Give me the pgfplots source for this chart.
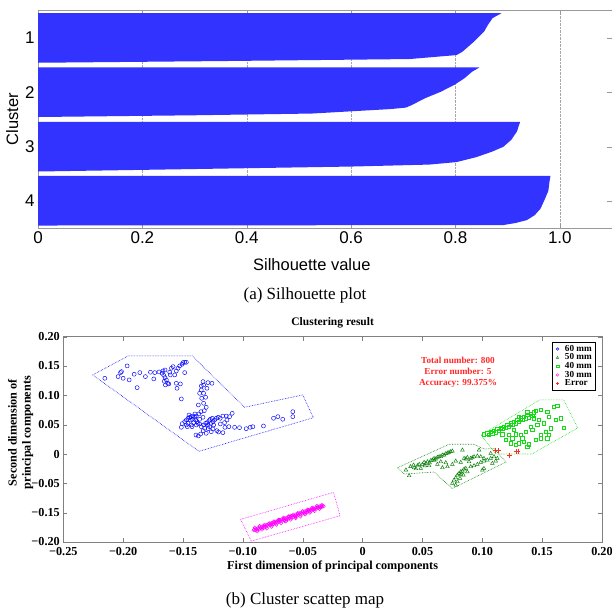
\documentclass[border=0pt]{standalone}
\usepackage{fontspec}
\setmainfont{Liberation Serif}
\newfontfamily\arial{Liberation Sans}
\usepackage{pgfplots}
\pgfplotsset{compat=1.18}
\definecolor{silblue}{RGB}{51,51,255}
\definecolor{dgreen}{RGB}{0,125,0}
\definecolor{lgreen}{RGB}{20,220,20}
\definecolor{mag}{RGB}{255,0,255}
\definecolor{errred}{RGB}{255,40,40}
\newcommand\tb{\fontsize{12.2}{14}\selectfont\bfseries}
\newcommand\ttl{\fontsize{11.5}{13}\selectfont\bfseries}
\newcommand\sm{\fontsize{9.2}{11.2}\selectfont\bfseries}

\begin{document}
\begin{tikzpicture}
\useasboundingbox (0,0) rectangle (612pt,612pt);

% (a) silhouette plot
\begin{axis}[
  at={(38pt,384pt)}, anchor=south west,
  scale only axis, width=574pt, height=218pt,
  xmin=0, xmax=1.1, ymin=0, ymax=880, y dir=reverse,
  xtick={0,0.2,0.4,0.6,0.8,1}, xticklabels={0,0.2,0.4,0.6,0.8,1.0},
  ytick={113,332,552,770}, yticklabels={1,2,3,4},
  xmajorgrids, grid style={densely dotted, gray!70},
  axis line style={gray!80}, tick style={gray!80},
  major tick length=5pt,
  tick label style={font=\fontsize{17}{20}\selectfont\arial},
  label style={font=\fontsize{16.5}{19}\selectfont\arial},
  xlabel={Silhouette value},
  xlabel style={at={(axis description cs:0.477,-0.17)}, anchor=center},
  ylabel={Cluster},
  ylabel style={at={(axis description cs:-0.045,0.5)}, anchor=center, rotate=0},
]
\addplot[fill=silblue, draw=none] coordinates {
  (0,13) (0.888,13) (0.871,33) (0.862,61) (0.855,87) (0.836,127) (0.813,169)
  (0.802,182) (0.712,198) (0.36,206) (0,213)} -- cycle;
\addplot[fill=silblue, draw=none] coordinates {
  (0,232) (0.846,232) (0.832,249) (0.817,276) (0.798,302) (0.772,330) (0.742,356)
  (0.716,384) (0.705,394) (0.675,400) (0.525,418) (0.3,425) (0,432)} -- cycle;
\addplot[fill=silblue, draw=none] coordinates {
  (0,452) (0.924,452) (0.921,469) (0.918,490) (0.907,524) (0.892,552) (0.87,572)
  (0.84,594) (0.802,614) (0.75,624) (0.6,632) (0.3,642) (0,652)} -- cycle;
\addplot[fill=silblue, draw=none] coordinates {
  (0,670) (0.982,670) (0.98,696) (0.978,730) (0.97,770) (0.963,802) (0.952,828)
  (0.937,848) (0.915,860) (0.892,868) (0.5,869) (0,870)} -- cycle;
\end{axis}

\node[font=\fontsize{17}{20}\selectfont] at (305pt,317pt) {(a) Silhouette plot};

% (b) cluster scatter map
\begin{axis}[
  at={(63.3pt,70pt)}, anchor=south west,
  scale only axis, width=538.7pt, height=205.3pt,
  xmin=-0.25, xmax=0.2, ymin=-0.15, ymax=0.2,
  xtick={-0.25,-0.2,-0.15,-0.1,-0.05,0,0.05,0.1,0.15,0.2},
  xticklabels={−0.25,−0.20,−0.15,−0.10,−0.05,0,0.05,0.10,0.15,0.20},
  ytick={-0.15,-0.1,-0.05,0,0.05,0.1,0.15,0.2},
  yticklabels={−0.20,−0.15,−0.05,0,0.05,0.10,0.15,0.20},
  axis line style={gray}, tick style={gray},
  major tick length=4pt,
  tick label style={font=\tb},
  x tick label style={yshift=-2pt},
  label style={font=\tb},
  title={Clustering result},
  title style={font=\ttl, at={(axis description cs:0.5,1)}, anchor=south, inner sep=2pt},
  xlabel={First dimension of principal components},
  xlabel style={at={(axis description cs:0.5,-0.12)}, anchor=center},
  ylabel={Second dimension of\\principal components},
  ylabel style={align=center, at={(axis description cs:-0.079,0.533)}, anchor=center},
  legend style={at={(0.987,0.974)}, anchor=north east, font=\sm, draw=black,
    inner sep=1pt, row sep=-3pt, legend cell align=left,
    /tikz/every odd column/.append style={column sep=2.5pt}},
  legend image code/.code={\path[draw=none, fill=none] (0,-1pt) rectangle (0.7em,1pt);
    \draw[#1] plot coordinates {(0.4em,0)};},
  legend image post style={mark size=1.3pt, line width=0.4pt},
]
% cluster boundaries
\addplot[blue, densely dotted, line width=0.6pt, forget plot] coordinates {
  (-0.2255,0.1348) (-0.1958,0.1672) (-0.1422,0.1672) (-0.0986,0.0797)
  (-0.05,0.1007) (-0.0411,0.0619) (-0.1367,0.0046)} -- cycle;
\addplot[dgreen, densely dotted, line width=0.6pt, forget plot] coordinates {
  (0.0292,-0.0234) (0.0348,-0.0341) (0.0598,-0.0307) (0.0748,-0.0589)
  (0.1198,-0.0137) (0.1098,0.0094) (0.1014,0.0085) (0.0931,0.0166) (0.0723,0.0166)} -- cycle;
\addplot[lgreen, densely dotted, line width=0.6pt, forget plot] coordinates {
  (0.0989,0.0324) (0.148,0.0922) (0.168,0.0922) (0.1797,0.0444)
  (0.1414,0.0) (0.1114,0.0) (0.103,0.022)} -- cycle;
\addplot[mag, densely dotted, line width=0.6pt, forget plot] coordinates {
  (-0.1019,-0.1114) (-0.0242,-0.0654) (-0.0188,-0.1053) (-0.093,-0.1485)} -- cycle;

% 60 mm
\addplot[only marks, mark=o, mark size=2pt, blue, mark options={line width=0.45pt}] coordinates {
(-0.2153,0.1291) (-0.2042,0.1320) (-0.2022,0.1388) (-0.2014,0.1405) (-0.1967,0.1502)
(-0.2000,0.1291) (-0.1950,0.1263) (-0.1908,0.1360) (-0.1883,0.1132) (-0.1861,0.1388)
(-0.1814,0.1320) (-0.1772,0.1394) (-0.1744,0.1280) (-0.1736,0.1388) (-0.1700,0.1399)
(-0.1675,0.1377) (-0.1667,0.1416) (-0.1650,0.1433) (-0.1661,0.1342) (-0.1650,0.1303)
(-0.1639,0.1263) (-0.1628,0.1206) (-0.1647,0.1177) (-0.1656,0.1240) (-0.1619,0.1195)
(-0.1611,0.1394) (-0.1597,0.1462) (-0.1583,0.1490) (-0.1606,0.1348) (-0.1569,0.1348)
(-0.1556,0.1416) (-0.1542,0.1462) (-0.1528,0.1502) (-0.1508,0.1530) (-0.1486,0.1564)
(-0.1472,0.1564) (-0.1500,0.1559) (-0.1556,0.1206) (-0.1522,0.1195) (-0.1550,0.1121)
(-0.1514,0.0939) (-0.1486,0.1388)
(-0.1333,0.1234) (-0.1328,0.1177) (-0.1292,0.1217) (-0.1258,0.1206) (-0.1347,0.1092)
(-0.1328,0.1035) (-0.1361,0.1035) (-0.1344,0.0950) (-0.1311,0.0967) (-0.1328,0.0865)
(-0.1372,0.0836) (-0.1306,0.0796) (-0.1322,0.0739) (-0.1350,0.0722) (-0.1367,0.0683)
(-0.1389,0.0648) (-0.1361,0.0592) (-0.1333,0.0626) (-0.1300,0.1121) (-0.1347,0.1160)
(-0.1486,0.0552) (-0.1472,0.0580) (-0.1458,0.0609) (-0.1444,0.0626) (-0.1431,0.0637)
(-0.1417,0.0648) (-0.1403,0.0626) (-0.1439,0.0580) (-0.1422,0.0592) (-0.1458,0.0523)
(-0.1394,0.0580) (-0.1383,0.0552) (-0.1411,0.0535) (-0.1506,0.0518) (-0.1375,0.0523)
(-0.1450,0.0665) (-0.1400,0.0683) (-0.1472,0.0495) (-0.1431,0.0495) (-0.1389,0.0495)
(-0.1347,0.0466) (-0.1328,0.0495) (-0.1311,0.0523) (-0.1300,0.0535) (-0.1283,0.0569)
(-0.1272,0.0592) (-0.1256,0.0609) (-0.1292,0.0495) (-0.1264,0.0523) (-0.1250,0.0552)
(-0.1236,0.0580) (-0.1319,0.0438) (-0.1278,0.0466) (-0.1222,0.0609) (-0.1206,0.0626)
(-0.1361,0.0512) (-0.1244,0.0495)
(-0.1189,0.0609) (-0.1167,0.0648) (-0.1139,0.0648) (-0.1111,0.0637) (-0.1089,0.0694)
(-0.1117,0.0466) (-0.1069,0.0455) (-0.1028,0.0449) (-0.0972,0.0432) (-0.0939,0.0455)
(-0.0917,0.0466) (-0.0828,0.0478) (-0.0744,0.0609) (-0.0708,0.0637) (-0.0667,0.0592)
(-0.0583,0.0722) (-0.0583,0.0637) (-0.1133,0.0580) (-0.1153,0.0535)
(-0.1514,0.0455) (-0.1464,0.0466) (-0.1425,0.0466) (-0.1392,0.0324) (-0.1353,0.0341)
(-0.1331,0.0398) (-0.1306,0.0353) (-0.1289,0.0432) (-0.1250,0.0427) (-0.1217,0.0398)
(-0.1203,0.0375) (-0.1167,0.0364) (-0.1150,0.0455) (-0.1189,0.0512) (-0.1372,0.0307)
(-0.1264,0.0381)};
\addlegendentry{60 mm}

% 50 mm
\addplot[only marks, mark=triangle, mark size=2.1pt, dgreen, mark options={line width=0.45pt}] coordinates {
(0.0362,-0.0273) (0.0389,-0.0370) (0.0431,-0.0233) (0.0459,-0.0199) (0.0486,-0.0245)
(0.0500,-0.0176) (0.0528,-0.0159) (0.0542,-0.0131) (0.0556,-0.0199) (0.0570,-0.0108)
(0.0584,-0.0102) (0.0597,-0.0074) (0.0611,-0.0085) (0.0625,-0.0057) (0.0639,-0.0046)
(0.0653,-0.0046) (0.0667,-0.0017) (0.0681,-0.0017) (0.0695,0.0006) (0.0709,0.0017)
(0.0722,0.0028) (0.0736,0.0040) (0.0750,0.0051) (0.0625,-0.0176) (0.0695,-0.0148)
(0.0653,-0.0131) (0.0514,-0.0142) (0.0473,-0.0176) (0.0426,-0.0188)
(0.0778,-0.0119) (0.0820,-0.0142) (0.0848,-0.0074) (0.0875,-0.0057) (0.0903,-0.0074)
(0.0931,-0.0046) (0.0959,-0.0034) (0.0987,-0.0046) (0.1014,-0.0074) (0.0889,-0.0131)
(0.0750,-0.0176) (0.0709,-0.0216) (0.0667,-0.0233) (0.0834,0.0068) (0.0973,0.0068)
(0.0862,-0.0085) (0.0917,-0.0063)
(0.0750,-0.0500) (0.0764,-0.0444) (0.0778,-0.0404) (0.0792,-0.0358) (0.0806,-0.0330)
(0.0820,-0.0302) (0.0834,-0.0290) (0.0848,-0.0256) (0.0862,-0.0245) (0.0903,-0.0216)
(0.0931,-0.0199) (0.0959,-0.0176) (0.0987,-0.0142) (0.1014,-0.0119) (0.1042,-0.0102)
(0.1070,-0.0074) (0.1098,-0.0046) (0.1126,-0.0074) (0.1112,-0.0119) (0.1084,-0.0159)
(0.1014,-0.0245) (0.1001,-0.0273) (0.1070,0.0011) (0.0778,-0.0529) (0.0792,-0.0472)
(0.0814,-0.0415) (0.0842,-0.0358) (0.0875,-0.0302) (0.0820,-0.0347)
(0.0400,-0.0215) (0.0445,-0.0250) (0.0520,-0.0200) (0.0560,-0.0150) (0.0600,-0.0110)};
\addlegendentry{50 mm}

% 40 mm
\addplot[only marks, mark=square, mark size=1.7pt, lgreen, mark options={line width=0.45pt}] coordinates {
(0.1014,0.0336) (0.1042,0.0353) (0.1070,0.0381) (0.1098,0.0398) (0.1125,0.0427)
(0.1153,0.0450) (0.1181,0.0466) (0.1209,0.0495) (0.1236,0.0523) (0.1264,0.0552)
(0.1292,0.0580) (0.1320,0.0609) (0.1348,0.0637) (0.1375,0.0665) (0.1403,0.0688)
(0.1431,0.0711) (0.1056,0.0324) (0.1111,0.0370) (0.1167,0.0427) (0.1222,0.0466)
(0.1278,0.0523) (0.1334,0.0580) (0.1389,0.0620) (0.1084,0.0353) (0.1139,0.0398)
(0.1195,0.0450) (0.1250,0.0495) (0.1306,0.0552) (0.1361,0.0609) (0.1417,0.0654)
(0.1375,0.0711) (0.1306,0.0637)
(0.1445,0.0734) (0.1486,0.0751) (0.1542,0.0722) (0.1598,0.0808) (0.1625,0.0825)
(0.1653,0.0609) (0.1681,0.0450) (0.1570,0.0438) (0.1528,0.0381) (0.1486,0.0324)
(0.1459,0.0495) (0.1473,0.0580) (0.1514,0.0523) (0.1417,0.0410) (0.1403,0.0466)
(0.1361,0.0381) (0.1320,0.0324) (0.1278,0.0336) (0.1250,0.0268) (0.1222,0.0324)
(0.1195,0.0239) (0.1236,0.0182) (0.1278,0.0154) (0.1306,0.0182) (0.1348,0.0210)
(0.1375,0.0125) (0.1389,0.0165) (0.1445,0.0239) (0.1486,0.0268) (0.1556,0.0324)
(0.1611,0.0580) (0.1556,0.0637) (0.1431,0.0609) (0.1542,0.0268) (0.1334,0.0268)
(0.1167,0.0336) (0.1264,0.0410)};
\addlegendentry{40 mm}

% 30 mm
\addplot[only marks, mark=o, mark size=1.7pt, mag, mark options={line width=0.45pt}] coordinates {
(-0.0910,-0.1300) (-0.0905,-0.1285) (-0.0895,-0.1302) (-0.0890,-0.1275) (-0.0880,-0.1290)
(-0.0872,-0.1262) (-0.0865,-0.1280) (-0.0858,-0.1250) (-0.0850,-0.1268) (-0.0842,-0.1240)
(-0.0835,-0.1258) (-0.0828,-0.1230) (-0.0820,-0.1250) (-0.0812,-0.1218) (-0.0805,-0.1240)
(-0.0798,-0.1205) (-0.0790,-0.1225) (-0.0782,-0.1195) (-0.0775,-0.1215) (-0.0768,-0.1185)
(-0.0760,-0.1205) (-0.0752,-0.1172) (-0.0745,-0.1195) (-0.0738,-0.1160) (-0.0730,-0.1180)
(-0.0722,-0.1150) (-0.0715,-0.1172) (-0.0708,-0.1135) (-0.0700,-0.1158) (-0.0692,-0.1125)
(-0.0685,-0.1148) (-0.0678,-0.1115) (-0.0670,-0.1138) (-0.0662,-0.1105) (-0.0655,-0.1128)
(-0.0648,-0.1095) (-0.0640,-0.1118) (-0.0632,-0.1085) (-0.0625,-0.1108) (-0.0618,-0.1075)
(-0.0610,-0.1098) (-0.0602,-0.1068) (-0.0595,-0.1085) (-0.0588,-0.1052) (-0.0580,-0.1075)
(-0.0572,-0.1045) (-0.0565,-0.1062) (-0.0558,-0.1032) (-0.0550,-0.1055) (-0.0542,-0.1020)
(-0.0535,-0.1042) (-0.0528,-0.1010) (-0.0520,-0.1030) (-0.0512,-0.1000) (-0.0505,-0.1020)
(-0.0498,-0.0990) (-0.0490,-0.1010) (-0.0482,-0.0978) (-0.0475,-0.0998) (-0.0468,-0.0968)
(-0.0460,-0.0988) (-0.0452,-0.0958) (-0.0445,-0.0975) (-0.0438,-0.0948) (-0.0430,-0.0965)
(-0.0422,-0.0935) (-0.0415,-0.0955) (-0.0408,-0.0925) (-0.0400,-0.0942) (-0.0392,-0.0915)
(-0.0385,-0.0932) (-0.0378,-0.0905) (-0.0370,-0.0920) (-0.0362,-0.0895) (-0.0355,-0.0912)
(-0.0348,-0.0888) (-0.0340,-0.0902) (-0.0332,-0.0880) (-0.0325,-0.0890)
(-0.0700,-0.1128) (-0.0650,-0.1140) (-0.0600,-0.1050) (-0.0560,-0.1080) (-0.0760,-0.1175)
(-0.0900,-0.1255) (-0.0880,-0.1320) (-0.0860,-0.1228) (-0.0840,-0.1290) (-0.0820,-0.1205)
(-0.0800,-0.1268) (-0.0780,-0.1180) (-0.0760,-0.1240) (-0.0740,-0.1150) (-0.0720,-0.1205)
(-0.0700,-0.1120) (-0.0680,-0.1180) (-0.0660,-0.1085) (-0.0640,-0.1150) (-0.0620,-0.1060)
(-0.0600,-0.1120) (-0.0580,-0.1035) (-0.0560,-0.1095) (-0.0540,-0.1005) (-0.0520,-0.1065)
(-0.0500,-0.0975) (-0.0480,-0.1030) (-0.0460,-0.0950) (-0.0440,-0.1000) (-0.0420,-0.0915)
(-0.0400,-0.0972) (-0.0380,-0.0885) (-0.0360,-0.0935) (-0.0340,-0.0870)};
\addlegendentry{30 mm}

% misclassified
\addplot[only marks, mark=+, mark size=2.5pt, errred, mark options={line width=0.5pt}] coordinates {
(0.1111,0.0068) (0.1133,0.0057) (0.1228,-0.0017) (0.1283,0.0040) (0.1297,0.0051)};
\addlegendentry{Error}

\node[font=\sm, text=errred, align=center, inner sep=0pt] at (axis cs:0.0797,0.139)
  {Total number: 800\\Error number: 5\\Accuracy: 99.375\%};
\end{axis}

\node[font=\fontsize{17}{20}\selectfont] at (305pt,12pt) {(b) Cluster scattep map};
\end{tikzpicture}
\end{document}
